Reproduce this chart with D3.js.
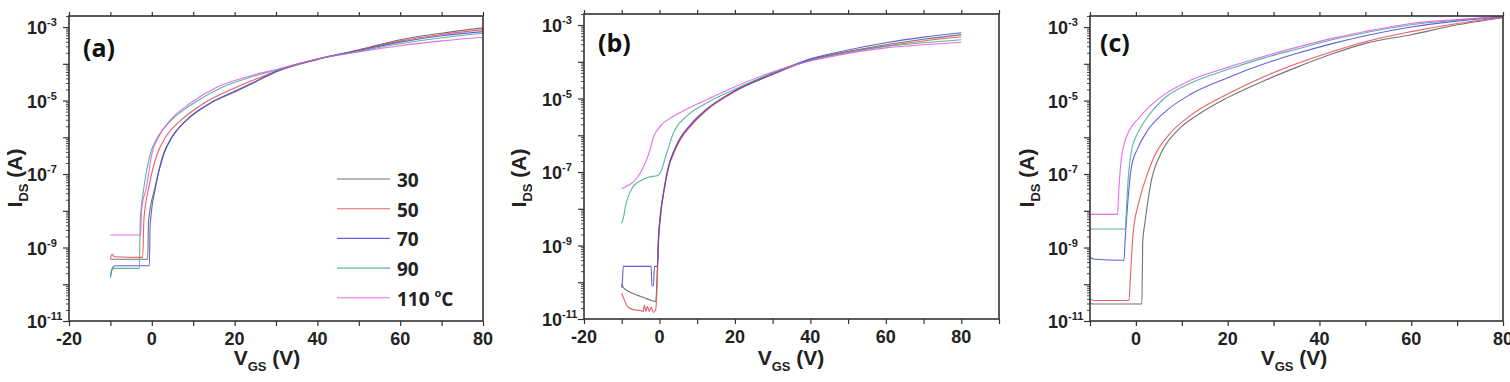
<!DOCTYPE html>
<html><head><meta charset="utf-8">
<script src="https://cdn.jsdelivr.net/npm/d3@7/dist/d3.min.js"></script>
<style>
html,body{margin:0;padding:0;background:#fff;}
svg{display:block;}
</style></head>
<body>
<svg id="chart" width="1510" height="382"></svg>
<script>
// ---------- data ----------
const temps = ["30", "50", "70", "90", "110"];
const xTicksAB = [-20, 0, 20, 40, 60, 80];
const xTicksC = [0, 20, 40, 60, 80];
const yTickExps = [-3, -5, -7, -9, -11];

// panel (a)  [VGS (V), IDS (A)]
const a30 = [[-10,4.8e-10],[-1.0,4.8e-10],[-0.8,5e-9],[0.8,4.4e-8],[2.8,3.5e-7],[4.8,1e-6],[8.4,2.9e-6],[14,8.3e-6],[20,1.7e-5],[25,3.2e-5],[30,6e-5],[40,1.3e-4],[50,2.4e-4],[60,4.5e-4],[70,6.8e-4],[80,9.5e-4]];
const a50 = [[-10,5e-10],[-9.6,6.5e-10],[-9,5.6e-10],[-2.2,5.4e-10],[-1.9,6e-9],[-0.7,4.4e-8],[1.3,3.5e-7],[3.3,1e-6],[7,2.9e-6],[12.5,8.3e-6],[20,2.2e-5],[25,3.8e-5],[30,6.2e-5],[40,1.35e-4],[50,2.35e-4],[60,4.2e-4],[70,6.3e-4],[80,8.5e-4]];
const a70 = [[-10,1.6e-10],[-9.6,2.6e-10],[-9,3.2e-10],[-0.6,3.2e-10],[-0.4,4e-9],[0.9,4.4e-8],[2.9,3.5e-7],[4.9,1e-6],[8.3,2.9e-6],[14,8.3e-6],[20,1.8e-5],[25,3.3e-5],[30,6.3e-5],[40,1.35e-4],[50,2.3e-4],[60,3.9e-4],[70,5.8e-4],[80,7.5e-4]];
const a90 = [[-10,1.5e-10],[-9.6,2.5e-10],[-9.2,2.7e-10],[-3.0,2.7e-10],[-2.8,5e-9],[-1.9,4.4e-8],[-0.4,3.5e-7],[1.4,1e-6],[4.7,2.9e-6],[10,8.3e-6],[17,2.3e-5],[24,4.4e-5],[30,6.6e-5],[40,1.35e-4],[50,2.2e-4],[60,3.5e-4],[70,5.1e-4],[80,6.8e-4]];
const a110 = [[-10,2.2e-9],[-2.7,2.2e-9],[-2.5,1e-8],[-1.3,4.4e-8],[0,3.5e-7],[1.6,1e-6],[4.4,2.9e-6],[9.2,8.3e-6],[15.7,2.3e-5],[22.9,4.4e-5],[30,7e-5],[40,1.35e-4],[50,2.1e-4],[60,3.1e-4],[70,4.2e-4],[80,5.3e-4]];

// panel (b)
const b30 = [[-10,9e-11],[-9.5,7e-11],[-8,5.5e-11],[-6,4.5e-11],[-4,3.8e-11],[-2.5,3.3e-11],[-1,3e-11],[-0.6,1.5e-10],[-0.2,1.5e-9],[0.2,5e-9],[1.4,4e-8],[2.5,1.5e-7],[3.7,3.3e-7],[5.5,8e-7],[8.1,1.8e-6],[12.5,5e-6],[20,1.6e-5],[30,4.5e-5],[40,1.15e-4],[50,1.9e-4],[60,2.9e-4],[70,4.1e-4],[80,5.5e-4]];
const b50 = [[-10,5e-11],[-9.4,3.5e-11],[-8.5,2.2e-11],[-7,1.8e-11],[-5,1.7e-11],[-4.3,1.6e-11],[-4,2.4e-11],[-3.6,1.6e-11],[-3.2,2.2e-11],[-2.7,1.6e-11],[-2.2,2.1e-11],[-1.6,1.5e-11],[-1.0,1.8e-11],[-0.7,6e-11],[-0.4,1e-9],[0,4e-9],[1.3,3.5e-8],[2.5,1.4e-7],[3.7,3.1e-7],[5.5,7.5e-7],[8.1,1.7e-6],[12.5,4.8e-6],[20,1.55e-5],[30,4.6e-5],[40,1.1e-4],[50,1.85e-4],[60,2.7e-4],[70,3.7e-4],[80,4.8e-4]];
const b70 = [[-10,7e-11],[-9.8,1.1e-10],[-9.6,2.7e-10],[-6,2.7e-10],[-2.2,2.7e-10],[-2.0,8e-11],[-1.6,8e-11],[-1.3,2.7e-10],[-0.5,2.7e-10],[-0.2,2e-9],[0.2,6e-9],[1.4,4.5e-8],[2.5,1.6e-7],[3.7,3.5e-7],[5.5,8.5e-7],[8.1,1.9e-6],[12.5,5.2e-6],[20,1.65e-5],[30,4.8e-5],[40,1.2e-4],[50,2.1e-4],[60,3.3e-4],[70,4.7e-4],[80,6.2e-4]];
const b90 = [[-10,4e-9],[-9.5,6e-9],[-9,1.2e-8],[-8,2.5e-8],[-7,4e-8],[-5,5.8e-8],[-3,7.2e-8],[-0.3,8.2e-8],[0.3,1e-7],[1.9,3.2e-7],[3.7,1.15e-6],[7.2,3.3e-6],[12.5,7.6e-6],[20,1.8e-5],[30,5e-5],[40,1.1e-4],[50,1.8e-4],[60,2.6e-4],[70,3.3e-4],[80,4e-4]];
const b110 = [[-10,3.5e-8],[-8,4.5e-8],[-6.9,5.4e-8],[-4.7,1.1e-7],[-2.5,4e-7],[-1.6,9e-7],[0.1,1.7e-6],[3.7,3.3e-6],[7,5e-6],[12.5,9.3e-6],[20,2.1e-5],[30,5.3e-5],[40,1.05e-4],[50,1.7e-4],[60,2.4e-4],[70,2.9e-4],[80,3.4e-4]];

// panel (c)
const c30 = [[-10,3e-11],[-9,2.9e-11],[1.3,2.9e-11],[1.5,1.5e-9],[2,5e-9],[3.3,6e-8],[5.4,3.5e-7],[9,1.5e-6],[14,4.5e-6],[20,1.2e-5],[28,3.5e-5],[35,8e-5],[43,1.9e-4],[50,3.6e-4],[60,6.2e-4],[70,1.15e-3],[80,1.8e-3]];
const c50 = [[-10,4e-11],[-9,3.6e-11],[-1.5,3.6e-11],[-1.2,1.5e-10],[-0.6,2.5e-9],[0.8,2e-8],[2.5,1e-7],[4,3e-7],[7,1.1e-6],[12,4e-6],[20,1.5e-5],[28,4.5e-5],[35,1e-4],[43,2.2e-4],[50,4e-4],[60,7.5e-4],[70,1.25e-3],[80,1.85e-3]];
const c70 = [[-10,5.5e-10],[-9,4.8e-10],[-2.6,4.5e-10],[-2.3,2e-9],[-1.8,1.5e-8],[-1.0,1.5e-7],[0.4,5e-7],[2.5,1.5e-6],[6,4.5e-6],[12,1.5e-5],[20,4.2e-5],[28,1e-4],[35,1.9e-4],[43,3.6e-4],[50,5.8e-4],[60,1e-3],[70,1.45e-3],[80,1.9e-3]];
const c90 = [[-10,3.2e-9],[-2.3,3.2e-9],[-2.0,1.5e-8],[-1.6,1e-7],[-1.0,4e-7],[0.4,1.3e-6],[2.5,3.5e-6],[6,1.1e-5],[12,3e-5],[20,7e-5],[28,1.45e-4],[35,2.5e-4],[43,4.6e-4],[50,7e-4],[60,1.15e-3],[70,1.55e-3],[80,1.93e-3]];
const c110 = [[-10,8e-9],[-4,8e-9],[-3.7,4e-8],[-3.2,2.5e-7],[-2.5,7e-7],[-1.5,1.5e-6],[0.5,3.2e-6],[2.5,6e-6],[6,1.4e-5],[12,3.6e-5],[20,8e-5],[28,1.6e-4],[35,2.8e-4],[43,5e-4],[50,7.6e-4],[60,1.25e-3],[70,1.6e-3],[80,1.95e-3]];

// ---------- styles / layout ----------
const colors = ["#5a5a5a", "#e8434b", "#4646d2", "#3fa98c", "#e055e6"];
const panels = [
  {label:"(a)", series:[a30,a50,a70,a90,a110], xDomain:[-20,80], xTicks:xTicksAB, left:69, right:483, top:16, bottom:321, titleX:267, yTitleX:22, legend:true},
  {label:"(b)", series:[b30,b50,b70,b90,b110], xDomain:[-20,90], xTicks:xTicksAB, left:584, right:999, top:14, bottom:319, titleX:791, yTitleX:526, legend:false},
  {label:"(c)", series:[c30,c50,c70,c90,c110], xDomain:[-10,80], xTicks:xTicksC, left:1090, right:1503, top:16, bottom:321, titleX:1294, yTitleX:1034, legend:false}
];
const yDomain = [1e-11, 2e-3];
const AX = "#333";
const FONT = "'Liberation Sans', Arial, sans-serif";
const LFONT = "'Open Sans', 'Noto Sans', sans-serif";

const svg = d3.select("#chart");

panels.forEach((p, pi) => {
  const x = d3.scaleLinear().domain(p.xDomain).range([p.left, p.right]);
  const y = d3.scaleLog().domain(yDomain).range([p.bottom, p.top]);
  const g = svg.append("g");

  // curves
  const line = d3.line().x(d => x(d[0])).y(d => y(d[1])).curve(d3.curveMonotoneX);
  p.series.forEach((s, i) => {
    g.append("path").datum(s).attr("d", line)
      .attr("fill", "none").attr("stroke", colors[i])
      .attr("stroke-width", 1.1).attr("stroke-opacity", 0.85);
  });

  // x ticks every 10
  const xt = d3.range(p.xDomain[0], p.xDomain[1] + 0.1, 10);
  const bottomAxis = d3.axisBottom(x).tickValues(xt).tickSize(5).tickFormat("");
  g.append("g").attr("transform", `translate(0,${p.bottom})`).call(bottomAxis)
    .call(a => { a.select(".domain").remove(); a.selectAll("line").attr("stroke", AX).attr("stroke-width", 1.2); });
  const topAxis = d3.axisTop(x).tickValues(xt).tickSize(4).tickFormat("");
  g.append("g").attr("transform", `translate(0,${p.top})`).call(topAxis)
    .call(a => { a.select(".domain").remove(); a.selectAll("line").attr("stroke", AX).attr("stroke-width", 1.2); });

  // x tick labels
  g.selectAll(".xl").data(p.xTicks).enter().append("text")
    .attr("x", d => x(d)).attr("y", p.bottom + 24)
    .attr("text-anchor", "middle").attr("font-family", FONT).attr("font-weight", "bold")
    .attr("font-size", 18).attr("fill", "#222").text(d => d);

  // y ticks (log): majors every decade, minors 2..9
  const majors = d3.range(-11, -2).map(e => Math.pow(10, e));
  const minors = [];
  d3.range(-11, -2).forEach(e => { for (let k = 2; k <= 9; k++) { const v = k * Math.pow(10, e); if (v <= yDomain[1]) minors.push(v); } });
  const leftMajor = d3.axisLeft(y).tickValues(majors).tickSize(6).tickFormat("");
  g.append("g").attr("transform", `translate(${p.left},0)`).call(leftMajor)
    .call(a => { a.select(".domain").remove(); a.selectAll("line").attr("stroke", AX).attr("stroke-width", 1.2); });
  const leftMinor = d3.axisLeft(y).tickValues(minors).tickSize(3).tickFormat("");
  g.append("g").attr("transform", `translate(${p.left},0)`).call(leftMinor)
    .call(a => { a.select(".domain").remove(); a.selectAll("line").attr("stroke", AX).attr("stroke-width", 0.9); });

  // y tick labels 10^n
  const yl = g.selectAll(".yl").data(yTickExps).enter().append("text")
    .attr("x", p.left - 42).attr("y", d => y(Math.pow(10, d)) + 7)
    .attr("font-family", FONT).attr("font-weight", "bold").attr("font-size", 18).attr("fill", "#222");
  yl.append("tspan").text("10");
  yl.append("tspan").attr("font-size", 11).attr("dy", -8).text(d => d);

  // frame
  g.append("rect").attr("x", p.left).attr("y", p.top)
    .attr("width", p.right - p.left).attr("height", p.bottom - p.top)
    .attr("fill", "none").attr("stroke", AX).attr("stroke-width", 1.6);

  // panel label
  g.append("text").attr("x", p.left + (pi === 2 ? 10 : 14)).attr("y", pi === 0 ? 57 : 52)
    .attr("font-family", LFONT).attr("font-weight", "bold").attr("font-size", 25)
    .attr("fill", "#111").text(p.label);

  // x title V_GS (V)
  const xtTxt = g.append("text").attr("x", p.titleX).attr("y", 365).attr("text-anchor", "middle")
    .attr("font-family", FONT).attr("font-weight", "bold").attr("font-size", 21).attr("fill", "#222");
  xtTxt.append("tspan").text("V");
  xtTxt.append("tspan").attr("font-size", 13).attr("dy", 6).text("GS");
  xtTxt.append("tspan").attr("dy", -6).text(" (V)");

  // y title I_DS (A)
  const ytTxt = g.append("text").attr("transform", `translate(${p.yTitleX},178) rotate(-90)`)
    .attr("text-anchor", "middle").attr("font-family", FONT).attr("font-weight", "bold")
    .attr("font-size", 21).attr("fill", "#222");
  ytTxt.append("tspan").text("I");
  ytTxt.append("tspan").attr("font-size", 13).attr("dy", 6).text("DS");
  ytTxt.append("tspan").attr("dy", -6).text(" (A)");

  // legend
  if (p.legend) {
    temps.forEach((t, i) => {
      const ly = 179 + i * 29.7;
      g.append("line").attr("x1", 337).attr("x2", 390).attr("y1", ly).attr("y2", ly)
        .attr("stroke", colors[i]).attr("stroke-width", 1.1).attr("stroke-opacity", 0.85);
      const tx = g.append("text").attr("x", 397).attr("y", ly + 8)
        .attr("font-family", LFONT).attr("font-weight", "bold").attr("font-size", 19).attr("fill", "#222");
      tx.append("tspan").text(t);
      if (i === temps.length - 1) {
        tx.append("tspan").text(" ");
        tx.append("tspan").attr("font-size", 11).attr("dy", -9).text("o");
        tx.append("tspan").attr("dy", 9).text("C");
      }
    });
  }
});
</script>
</body></html>
